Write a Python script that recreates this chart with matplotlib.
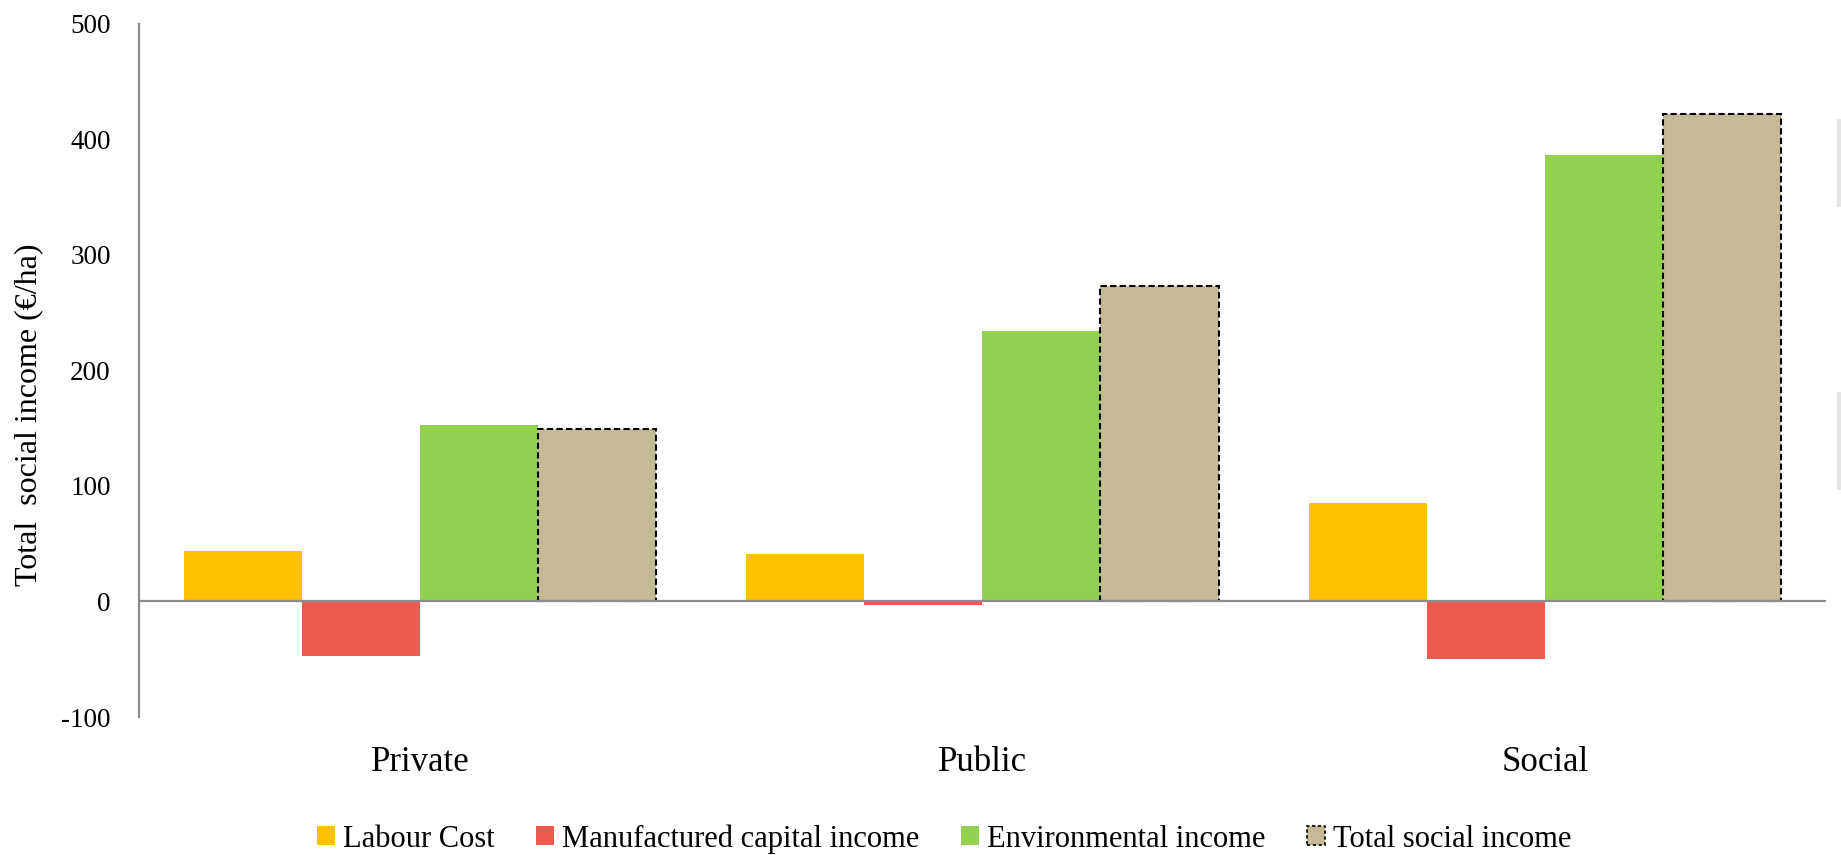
import matplotlib
matplotlib.use("Agg")
import matplotlib.pyplot as plt
from matplotlib.patches import Patch, Rectangle
import numpy as np

plt.rcParams['font.family'] = ['Liberation Serif', 'DejaVu Serif']

# Income components per management regime (EUR/ha)
categories = ["Private", "Public", "Social"]
labour_cost = [44, 41, 85]
manufactured_capital = [-47, -3, -50]
environmental_income = [153, 234, 386]
total_social_income = [149, 273, 422]

series_names = ["Labour Cost", "Manufactured capital income",
                "Environmental income", "Total social income"]
y_ticks = [-100, 0, 100, 200, 300, 400, 500]

colors = ["#FFC000", "#EC5A4F", "#92D050", "#C4BB96"]
axis_grey = "#8C8C8C"

fig = plt.figure(figsize=(18.41, 8.55), dpi=100)
ax = fig.add_axes([0.0753, 0.1614, 0.9166, 0.811])

x = np.arange(len(categories))
width = 0.21
series = [labour_cost, manufactured_capital, environmental_income, total_social_income]
for i, (vals, col) in enumerate(zip(series, colors)):
    offs = (i - 1.5) * width
    if i == 3:
        ax.bar(x + offs, vals, width, color=col, edgecolor="black",
               linewidth=1.5, linestyle=(0, (3, 1.6)), zorder=2)
    else:
        ax.bar(x + offs, vals, width, color=col, linewidth=0, zorder=2)

ax.axhline(0, color=axis_grey, linewidth=1.6, zorder=3)

ax.set_xlim(-0.5, 2.5)
ax.set_ylim(-100, 500)
ax.set_yticks(y_ticks)
ax.set_yticklabels([str(v) for v in y_ticks], fontsize=19.5)
ax.set_xticks(x)
ax.set_xticklabels(categories, fontsize=25)
ax.tick_params(axis="y", length=0, pad=20)
ax.tick_params(axis="x", length=0, pad=21)

for s in ["top", "right", "bottom"]:
    ax.spines[s].set_visible(False)
ax.spines["left"].set_color(axis_grey)
ax.spines["left"].set_linewidth(1.6)

ax.set_ylabel("Total  social income (\u20ac/ha)", fontsize=23)
ax.yaxis.set_label_coords(-0.0565, 0.4365)

handles = [Patch(facecolor=colors[0], edgecolor="none"),
           Patch(facecolor=colors[1], edgecolor="none"),
           Patch(facecolor=colors[2], edgecolor="none"),
           Patch(facecolor=colors[3], edgecolor="black", linewidth=1.2,
                 linestyle=(0, (2, 1.5)))]
fig.legend(handles, series_names, loc="center", bbox_to_anchor=(0.513, 0.019),
           ncol=4, frameon=False, fontsize=22, handlelength=0.575,
           handleheight=0.575, handletextpad=0.27, columnspacing=1.37,
           borderaxespad=0)

# faint panel edges at the right border
for y0, y1 in [(119, 207), (392, 490)]:
    fig.patches.append(Rectangle((1837 / 1841, 1 - y1 / 855), 4 / 1841,
                                 (y1 - y0) / 855, transform=fig.transFigure,
                                 facecolor="#E6E6E6", edgecolor="none"))

fig.savefig("out.png", dpi=100)
